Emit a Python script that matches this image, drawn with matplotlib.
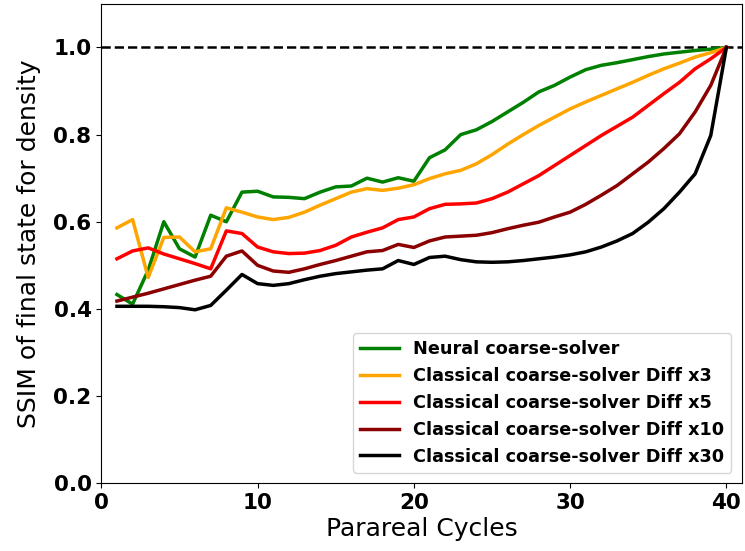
import matplotlib
matplotlib.use("Agg")
import matplotlib.pyplot as plt
import numpy as np

cycles = list(range(1, 41))

neural = [0.433, 0.411, 0.489, 0.600, 0.538, 0.519, 0.615, 0.600, 0.668, 0.670,
          0.657, 0.656, 0.653, 0.668, 0.680, 0.682, 0.700, 0.691, 0.701, 0.693,
          0.747, 0.765, 0.800, 0.811, 0.830, 0.852, 0.874, 0.898, 0.913, 0.932,
          0.949, 0.959, 0.965, 0.972, 0.979, 0.985, 0.989, 0.993, 0.996, 1.0]

diff3 = [0.586, 0.605, 0.472, 0.564, 0.565, 0.531, 0.538, 0.632, 0.622, 0.611,
         0.605, 0.610, 0.622, 0.638, 0.653, 0.668, 0.676, 0.672, 0.677, 0.685,
         0.699, 0.710, 0.718, 0.733, 0.754, 0.778, 0.800, 0.821, 0.840, 0.859,
         0.875, 0.890, 0.905, 0.920, 0.936, 0.951, 0.964, 0.978, 0.988, 1.0]

diff5 = [0.515, 0.533, 0.540, 0.526, 0.515, 0.504, 0.492, 0.579, 0.573, 0.542,
         0.531, 0.527, 0.528, 0.534, 0.546, 0.565, 0.576, 0.586, 0.605, 0.611,
         0.630, 0.640, 0.641, 0.643, 0.653, 0.668, 0.687, 0.706, 0.729, 0.752,
         0.775, 0.798, 0.819, 0.840, 0.867, 0.894, 0.920, 0.951, 0.974, 1.0]

diff10 = [0.418, 0.427, 0.436, 0.446, 0.456, 0.466, 0.475, 0.521, 0.533, 0.500,
          0.487, 0.484, 0.492, 0.502, 0.511, 0.521, 0.531, 0.534, 0.548, 0.541,
          0.556, 0.565, 0.567, 0.569, 0.575, 0.584, 0.592, 0.599, 0.611, 0.622,
          0.640, 0.661, 0.683, 0.710, 0.737, 0.768, 0.802, 0.852, 0.913, 1.0]

diff30 = [0.406, 0.406, 0.406, 0.405, 0.403, 0.398, 0.408, 0.443, 0.479, 0.458,
          0.454, 0.458, 0.467, 0.475, 0.481, 0.485, 0.489, 0.492, 0.511, 0.502,
          0.518, 0.521, 0.513, 0.508, 0.507, 0.508, 0.511, 0.515, 0.519, 0.524,
          0.531, 0.542, 0.556, 0.573, 0.599, 0.630, 0.668, 0.710, 0.798, 1.0]

labels = ["Neural coarse-solver",
          "Classical coarse-solver Diff x3",
          "Classical coarse-solver Diff x5",
          "Classical coarse-solver Diff x10",
          "Classical coarse-solver Diff x30"]
colors = ["green", "orange", "red", "darkred", "black"]
series = [neural, diff3, diff5, diff10, diff30]

fig = plt.figure(figsize=(7.45, 5.51), dpi=100)
ax = fig.add_axes([0.136, 0.123, 0.860, 0.870])

ax.axhline(1.0, color="black", linestyle="--", linewidth=1.8, zorder=1)
for s, c, l in zip(series, colors, labels):
    ax.plot(cycles, s, color=c, linewidth=2.5, label=l, zorder=2)

ax.set_xlim(0, 41)
ax.set_ylim(0, 1.1)
ax.set_xticks([0, 10, 20, 30, 40])
ax.set_yticks([0.0, 0.2, 0.4, 0.6, 0.8, 1.0])
for t in ax.get_xticklabels() + ax.get_yticklabels():
    t.set_fontweight("bold")
    t.set_fontsize(15.5)
ax.set_xlabel("Parareal Cycles", fontsize=18, labelpad=3)
ax.set_ylabel("SSIM of final state for density", fontsize=18, labelpad=9)
ax.legend(loc="lower right", prop={"weight": "bold", "size": 12.7},
          handlelength=2.2, borderaxespad=0.6)

fig.savefig("out.png", dpi=100)
